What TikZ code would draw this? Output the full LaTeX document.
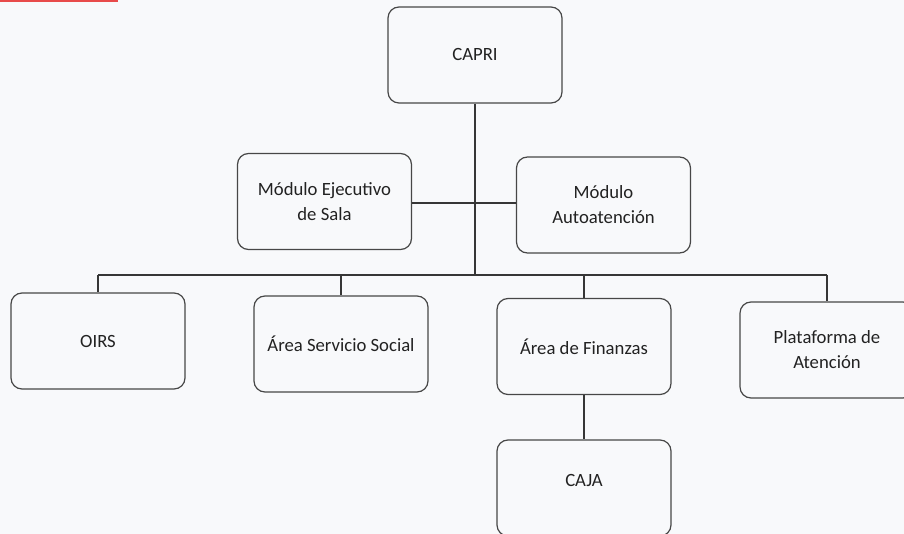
\documentclass[tikz,border=0pt]{standalone}
\usepackage{fontspec}
\setmainfont{Carlito}
\begin{document}
\begin{tikzpicture}[x=1pt,y=-1pt,
  unitbox/.style={draw=boxline, line width=1.2pt, rounded corners=11pt,
    minimum width=174pt, minimum height=96pt, align=center,
    text=textgray, font=\fontsize{18.7}{25}\selectfont, inner sep=2pt},
  link/.style={draw=linkline, line width=1.4pt}]
\definecolor{boxline}{HTML}{474747}
\definecolor{linkline}{HTML}{363636}
\definecolor{textgray}{HTML}{222222}
\definecolor{paper}{HTML}{F8F9FB}
\definecolor{marker}{HTML}{E84A4A}
% page and clipping frame
\fill[paper] (0,0) rectangle (904,534);
\useasboundingbox (0,0) rectangle (904,534);
\clip (0,0) rectangle (904,534);
\fill[marker] (0,0) rectangle (118,2.5);

% units
\node[unitbox] (capri)  at (475,55)  {CAPRI};
\node[unitbox] (ejec)   at (324.5,201.5) {Módulo Ejecutivo\\de Sala};
\node[unitbox] (auto)   at (603.5,205) {Módulo\\Autoatención};
\node[unitbox] (oirs)   at (98,341)  {OIRS};
\node[unitbox] (social) at (341,344) {Área Servicio Social};
\node[unitbox] (fin)    at (584,346.5) {Área de Finanzas};
\node[unitbox] (plat)   at (827,350) {Plataforma de\\Atención};
% label sits a little above the box centre
\node[unitbox, text depth=15pt] (caja) at (584,488) {CAJA};

% junction points
\coordinate (mid) at (475,203);
\coordinate (bus) at (475,275);

% connectors
\draw[link] (capri.south) -- (bus);
\draw[link] (ejec.east |- mid) -- (auto.west |- mid);
\draw[link] (oirs.north |- bus) -- (plat.north |- bus);
\foreach \u in {oirs,social,fin,plat}
  \draw[link] (\u.north |- bus) -- (\u.north);
\draw[link] (fin.south) -- (caja.north);
\end{tikzpicture}
\end{document}
